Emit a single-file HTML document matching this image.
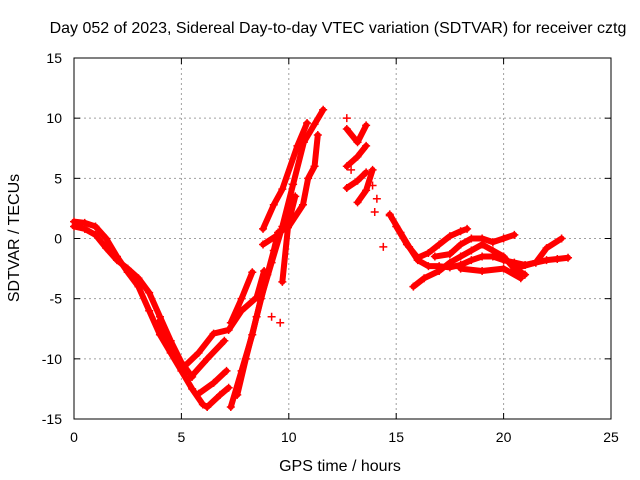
<!DOCTYPE html>
<html><head><meta charset="utf-8"><style>
body{margin:0;background:#fff}
svg{display:block;font-family:"Liberation Sans",sans-serif}
</style></head><body>
<svg id="chart" width="640" height="480" xmlns="http://www.w3.org/2000/svg">
<rect width="640" height="480" fill="#fff"/>
<text x="338" y="33" font-size="16" text-anchor="middle">Day 052 of 2023, Sidereal Day-to-day VTEC variation (SDTVAR) for receiver cztg</text>
<g id="grid"></g><g id="axes"></g><g id="marks"></g>
<text x="340" y="471" font-size="16" text-anchor="middle">GPS time / hours</text>
<text x="19" y="238" font-size="16" text-anchor="middle" transform="rotate(-90 19 238)">SDTVAR / TECUs</text>
</svg>
<script>
const xTicks=[0,5,10,15,20,25];
const yTicks=[-15,-10,-5,0,5,10,15];
const tracks=[
[[0,1.4],[0.5,1.3],[1,1],[1.5,0],[2,-1.5],[2.5,-2.8],[3,-4],[3.5,-6],[4,-8],[4.5,-9.5],[5,-11],[5.5,-12.5],[6,-13.8],[6.2,-14]],
[[0,1],[0.5,0.8],[1,0.3],[1.5,-0.8],[2,-1.8],[2.5,-2.5],[3,-3.3],[3.5,-4.5],[4,-6.5],[4.5,-8.5],[5,-10.3],[5.5,-11.5]],
[[3.9,-7],[4.3,-8.5],[4.8,-10],[5.2,-11]],
[[5.1,-10.7],[5.8,-9.5],[6.5,-7.9],[7.2,-7.6],[7.8,-6],[8.5,-4.9],[8.85,-2.7]],
[[5.45,-11.5],[6.2,-10],[7,-8.5]],
[[5.8,-12.9],[6.5,-12],[7.1,-11]],
[[6.2,-14],[6.8,-13],[7.2,-12.4]],
[[7.3,-14],[7.8,-11],[8.3,-8],[8.7,-5],[9.2,-2],[9.7,1],[10.2,4.5],[10.7,8],[11.2,9.5],[11.6,10.7]],
[[7.3,-7],[7.8,-5],[8.3,-2.8]],
[[7.6,-13],[8,-10],[8.5,-6.5],[9,-3],[9.3,-1],[9.5,0.5]],
[[8.8,0.8],[9.3,2.8],[9.7,4.1],[10.4,7.7],[10.85,9.6]],
[[8.8,-0.5],[9.4,0.2],[9.96,1.1],[10.3,3.5]],
[[9.7,-3.6],[9.96,0.9],[10.66,2.8],[10.9,5],[11.2,6],[11.35,8.6]],
[[12.7,9.1],[13.2,8],[13.6,9.4]],
[[12.7,6],[13.2,6.8],[13.6,7.7]],
[[12.7,4.2],[13.2,4.8],[13.6,5.5]],
[[13.2,3],[13.6,4],[13.9,5.7]],
[[14.7,2],[15.2,0.5],[15.6,-0.7],[16,-1.8],[16.5,-2.3],[17,-2.3],[17.5,-2.4],[18,-2.2],[18.5,-1.8],[19,-1.5],[19.5,-1.5],[20,-1.8],[20.5,-2],[21,-2.2],[21.5,-2],[22,-1.8],[22.5,-1.7],[23,-1.6]],
[[15,1],[15.5,-0.5],[16,-1.6],[16.5,-1.2],[17,-0.5],[17.5,0.2],[18,0.6],[18.3,0.8]],
[[16.8,-1.5],[17.5,-1.3],[18,-0.5],[18.5,0],[19,0],[19.5,-0.3],[20,0],[20.5,0.3]],
[[15.8,-4],[16.3,-3.3],[17,-2.7],[17.5,-2],[18,-1.5],[18.5,-1],[19,-0.5],[19.5,-1],[20,-1.5],[20.5,-2.5],[21,-3]],
[[18,-2.5],[19,-2.7],[20,-2.5],[20.8,-3.3]],
[[20.5,-2.5],[21.5,-2],[22,-0.8],[22.7,0]]
];
const loneTimes=[12.7,14.4,12.9,14.1,14.0,14.7,9.2,9.6,13.9];
const loneValues=[10,-0.7,5.7,3.3,2.2,1.9,-6.5,-7,4.4];
const X0=74,X1=611,Y0=419,Y1=58;
const sx=v=>X0+(v-0)/(25-0)*(X1-X0);
const sy=v=>Y0-(v+15)/30*(Y0-Y1);
const NS="http://www.w3.org/2000/svg";
function mk(tag,attrs,parent){const e=document.createElementNS(NS,tag);for(const k in attrs)e.setAttribute(k,attrs[k]);parent.appendChild(e);return e;}
const grid=document.getElementById('grid'),axes=document.getElementById('axes'),marks=document.getElementById('marks');
xTicks.forEach(t=>{
 const x=sx(t);
 if(t>0&&t<25){const g=mk('line',{x1:x,x2:x,y1:Y1,y2:Y0,stroke:'#a0a0a0','stroke-dasharray':'2,3'},grid);
 
 }
 mk('line',{x1:x,x2:x,y1:Y0,y2:Y0-6,stroke:'#000'},axes);
 mk('line',{x1:x,x2:x,y1:Y1,y2:Y1+6,stroke:'#000'},axes);
 const l=mk('text',{x:x,y:Y0+23,'font-size':14,'text-anchor':'middle'},axes);l.textContent=t;
 
 
});
yTicks.forEach(t=>{
 const y=sy(t);
 if(t>-15&&t<15){const g=mk('line',{x1:X0,x2:X1,y1:y,y2:y,stroke:'#a0a0a0','stroke-dasharray':'2,3'},grid);
 
 }
 mk('line',{x1:X0,x2:X0+6,y1:y,y2:y,stroke:'#000'},axes);
 mk('line',{x1:X1,x2:X1-6,y1:y,y2:y,stroke:'#000'},axes);
 const l=mk('text',{x:X0-12,y:y+5,'font-size':14,'text-anchor':'end'},axes);l.textContent=t;
 
 
});
const frame=mk('rect',{x:X0,y:Y1,width:X1-X0,height:Y0-Y1,fill:'none',stroke:'#000'},axes);


function marker(x,y){
 const m=mk('path',{d:`M${x-4},${y}H${x+4}M${x},${y-4}V${y+4}`,stroke:'#f00','stroke-width':1.5},marks);
 
 
}
tracks.forEach(tr=>{
 const pl=mk('polyline',{points:tr.map(p=>sx(p[0])+','+sy(p[1])).join(' '),fill:'none',stroke:'#f00','stroke-width':6,'stroke-linejoin':'round','stroke-linecap':'round'},marks);
 
 
 tr.forEach(p=>marker(sx(p[0]),sy(p[1])));
});
loneTimes.forEach((t,i)=>marker(sx(t),sy(loneValues[i])));
</script>
</body></html>
